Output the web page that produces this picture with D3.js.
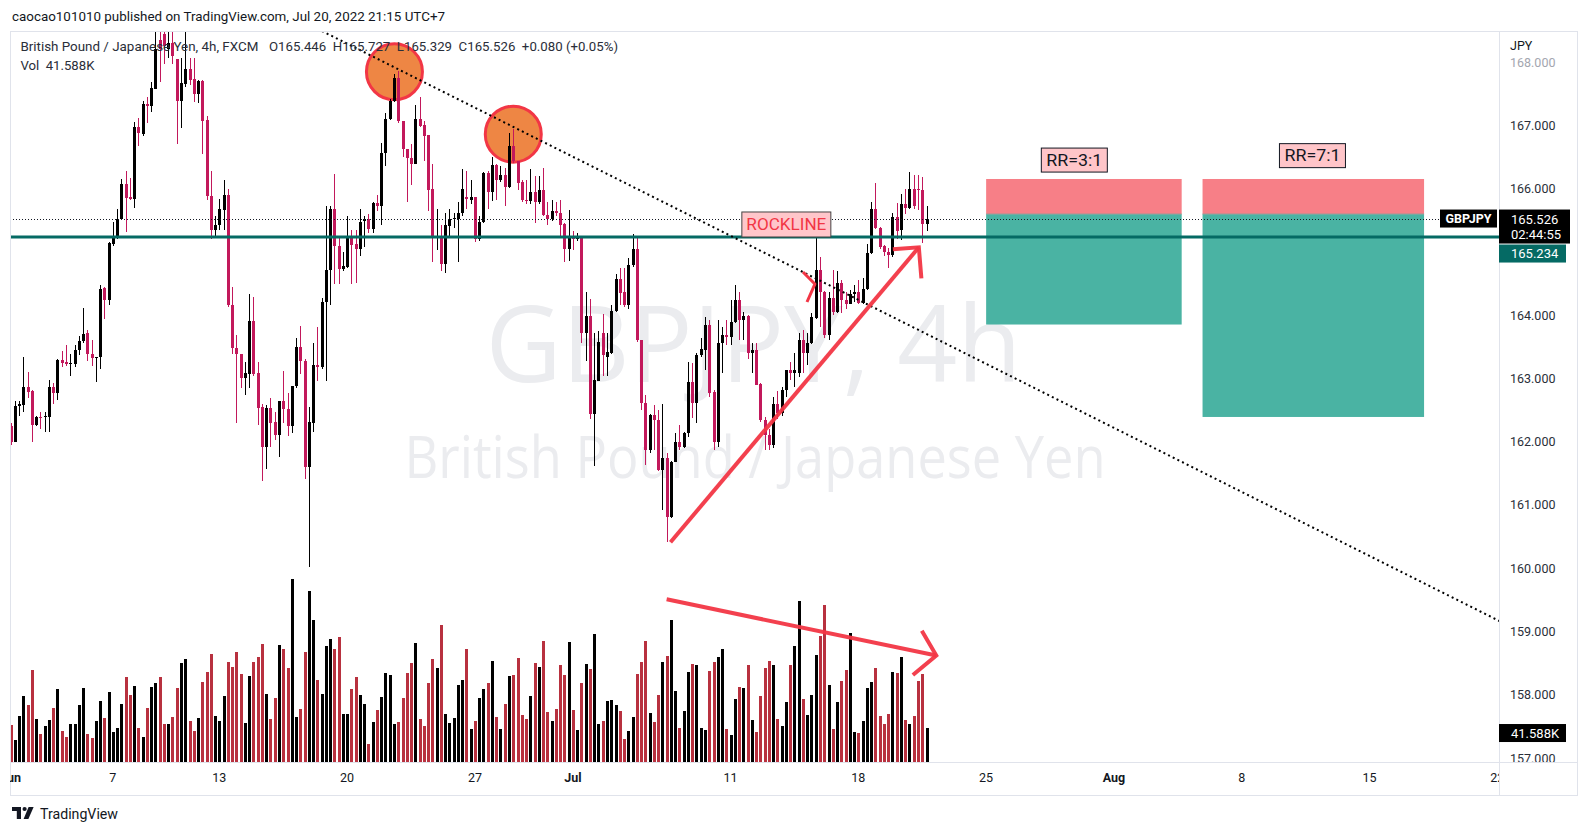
<!DOCTYPE html>
<html><head><meta charset="utf-8">
<script src="https://cdn.jsdelivr.net/npm/d3@7"></script>
<style>
body{margin:0;background:#fff;}
svg{display:block;font-family:Roboto,"Noto Sans",sans-serif;}
</style></head><body>
<svg id="c" width="1586" height="833"></svg>
<script>
// ---------- DATA ----------
const opens = [162.247,162.002,162.563,162.585,162.862,162.808,162.263,162.394,162.383,162.394,
162.862,162.775,163.292,163.26,163.221,163.227,163.445,163.586,163.717,163.379,
163.319,163.336,164.435,164.245,165.12,165.24,165.513,166.073,165.866,165.828,
166.971,166.862,167.336,167.309,167.581,168.343,168.45,168.207,168.299,168.043,
167.39,167.646,167.891,167.728,167.488,167.701,167.08,165.877,165.35,165.431,
165.665,165.894,164.152,163.472,163.39,162.998,163.075,163.907,163.08,162.547,
161.921,162.536,162.313,162.111,162.644,162.508,162.247,162.873,163.499,163.281,
161.594,162.302,163.21,163.172,164.206,164.713,165.676,165.088,164.724,164.762,
165.24,165.13,165.039,165.486,165.513,165.36,165.774,165.73,166.563,167.107,
167.379,167.744,167.064,166.628,166.481,166.394,167.102,167.009,166.846,165.992,
165.224,165.251,164.805,165.415,165.513,165.524,165.621,165.866,165.823,165.866,
165.203,165.469,166.247,165.948,166.367,166.128,166.209,166.03,166.672,166.438,
166.111,165.823,165.801,165.948,165.785,165.975,165.583,165.513,165.638,165.616,
165.442,165.05,165.251,165.197,165.24,163.717,163.989,162.438,162.955,163.717,
163.336,163.401,164.07,164.577,164.359,164.152,164.792,165.039,163.606,162.605,
161.868,162.42,162.342,161.551,161.736,160.814,161.683,161.999,161.92,162.131,
162.947,162.616,163.369,163.448,163.843,162.79,161.999,163.553,163.685,163.659,
163.896,164.238,163.922,163.99,163.4,163.45,162.91,162.342,162.105,161.95,
162.6,162.45,162.82,163.132,163.079,163.079,163.606,163.395,163.553,163.948,
164.712,164.37,163.685,164.265,164.05,164.5,164.24,164.18,164.34,164.37,
164.19,164.42,164.98,165.67,165.37,165.09,164.99,164.95,165.545,165.345,
165.756,165.69,166.0,165.99,165.98,165.446];
const highs = [162.30,162.639,162.639,163.336,163.102,162.81,162.40,162.465,162.465,162.971,
162.927,163.30,163.434,163.526,163.39,163.526,163.662,164.108,163.771,163.608,
163.34,164.468,164.45,165.148,165.469,165.676,166.149,166.275,166.166,167.053,
167.118,167.379,167.445,167.69,168.8,168.9,168.75,168.7,168.6,168.05,
168.071,168.5,168.071,168.071,167.717,167.717,167.145,166.275,165.567,165.839,
166.128,165.992,164.451,163.69,163.39,163.254,164.326,164.288,163.254,162.601,
162.574,162.693,162.465,162.65,163.118,162.764,162.88,163.635,163.825,163.31,
162.547,163.553,163.809,164.272,165.73,165.73,166.231,165.251,165.0,165.567,
165.35,165.35,165.676,165.567,165.594,165.785,165.894,166.726,167.2,167.418,
167.809,167.864,167.07,166.63,166.71,167.32,167.445,167.064,166.85,166.383,
165.676,165.431,165.621,165.676,165.621,165.785,166.302,166.275,166.139,165.87,
165.567,166.258,166.275,166.492,166.383,166.356,166.329,166.873,166.944,166.44,
166.139,166.139,166.302,166.193,166.193,166.329,165.785,165.812,165.785,165.812,
165.45,165.66,165.333,165.295,165.251,164.359,164.261,163.717,163.744,164.016,
163.717,164.152,164.642,164.751,164.751,164.9,165.281,165.213,163.61,162.737,
162.43,162.58,162.5,162.595,161.815,161.69,162.131,162.263,162.16,163.264,
163.237,163.395,163.632,163.975,163.922,162.82,163.922,163.817,163.922,164.238,
164.475,164.37,164.05,164.0,163.553,163.553,162.921,162.394,162.2,162.7,
162.8,162.87,163.14,163.264,163.395,163.711,163.764,163.711,164.027,165.213,
164.923,164.375,164.37,164.72,164.69,164.55,164.37,164.4,164.48,164.55,
164.58,165.13,165.79,166.09,165.4,165.1,165.06,165.61,165.77,165.92,
166.0,166.257,166.21,166.21,166.19,165.727];
const lows = [161.95,162.0,162.41,162.465,162.693,162.002,162.247,162.193,162.155,162.15,
162.601,162.655,163.183,163.2,163.036,163.172,163.363,163.553,163.281,163.2,
162.938,163.145,163.934,164.152,165.094,165.197,165.51,165.306,165.812,165.687,
166.672,166.83,167.037,167.216,167.58,167.69,167.962,168.071,167.962,166.71,
166.955,167.608,167.635,167.363,167.347,166.547,165.812,165.203,165.24,165.35,
165.35,164.125,163.39,162.291,162.846,162.737,162.846,163.036,162.258,161.376,
161.567,161.921,162.03,161.757,162.302,162.084,162.138,162.846,163.064,161.404,
160.016,162.155,162.955,163.145,162.955,164.152,164.495,164.495,164.70,164.751,
164.495,164.5,164.941,165.07,165.295,165.295,165.649,165.431,166.356,167.08,
167.363,167.037,166.492,165.785,166.057,166.383,166.98,166.438,165.649,164.832,
165.023,164.696,164.669,165.24,165.38,164.832,165.567,165.676,165.757,165.148,
165.175,165.458,165.676,165.801,165.812,166.111,165.73,166.002,166.411,165.975,
165.785,165.757,165.757,165.458,165.757,165.567,165.431,165.486,165.567,165.24,
164.832,164.859,165.023,165.175,163.553,163.281,162.356,161.621,162.955,163.036,
163.036,163.39,164.043,164.152,164.125,164.1,164.765,163.58,162.5,161.631,
161.815,161.868,161.54,160.919,160.419,160.788,161.68,161.868,161.894,162.078,
162.368,162.289,163.343,163.132,162.711,161.868,161.92,163.079,163.527,163.527,
163.88,163.606,163.6,163.3,163.079,162.89,162.315,161.868,161.87,161.9,
162.35,162.4,162.7,162.974,162.869,163.026,163.079,163.211,163.55,163.94,
163.817,163.632,163.606,164.0,164.03,164.03,164.1,164.17,164.21,164.17,
164.17,164.4,164.97,165.36,165.05,164.94,164.74,164.92,165.21,165.19,
165.6,165.68,165.68,165.66,165.144,165.329];
const closes = [162.002,162.563,162.601,162.862,162.791,162.263,162.394,162.372,162.41,162.862,
162.775,163.292,163.249,163.221,163.249,163.445,163.586,163.706,163.379,163.319,
163.336,164.413,164.245,165.132,165.24,165.524,166.073,165.856,165.828,166.971,
166.873,167.336,167.298,167.592,168.207,168.207,168.25,168.299,168.098,167.39,
167.662,167.891,167.717,167.488,167.701,167.075,165.877,165.35,165.42,165.676,
165.894,164.152,163.472,163.379,162.998,163.08,163.907,163.064,162.536,161.921,
162.536,162.302,162.111,162.644,162.508,162.247,162.873,163.499,163.27,161.594,
162.313,163.21,163.172,164.206,164.713,165.676,165.088,164.724,164.78,165.24,
165.115,165.039,165.469,165.513,165.36,165.774,165.73,166.563,167.107,167.379,
167.744,167.064,166.628,166.481,166.394,167.102,166.993,166.83,165.975,165.24,
165.251,164.805,165.431,165.524,165.54,165.621,165.992,165.828,165.866,165.203,
165.469,166.247,165.948,166.367,166.128,166.209,166.03,166.672,166.438,166.084,
165.812,165.801,165.948,165.785,165.975,165.583,165.513,165.638,165.616,165.431,
165.05,165.24,165.197,165.251,163.717,163.989,162.438,162.982,163.581,163.363,
163.417,164.07,164.577,164.343,164.152,164.794,165.039,163.606,162.605,161.868,
162.421,162.34,161.551,161.736,160.814,161.683,161.999,161.92,162.131,162.947,
162.616,163.369,163.459,163.843,162.763,161.999,163.564,163.685,163.659,163.896,
164.238,163.922,163.99,163.4,163.45,162.9,162.342,162.105,161.95,162.6,
162.45,162.82,163.13,163.079,163.132,163.606,163.395,163.564,163.975,164.712,
164.37,163.685,164.265,164.05,164.5,164.24,164.18,164.34,164.37,164.19,
164.42,164.98,165.67,165.37,165.08,164.99,164.95,165.545,165.33,165.756,
165.69,166.0,165.72,165.97,165.446,165.526];
const volumesK = [45.3,26.9,56.3,80.8,69.8,112.6,52.6,34.3,44.1,51.4,
66.1,89.4,37.9,30.6,46.5,46.5,69.8,90.6,34.3,29.4,
50.2,74.7,53.9,85.7,36.7,41.6,71.0,104.0,82.0,93.0,
41.6,30.6,66.1,91.8,96.7,104.0,46.5,46.5,55.1,90.6,
121.2,126.1,50.2,37.9,53.9,97.9,110.2,132.2,56.3,50.2,
80.8,122.4,116.3,134.6,107.7,47.7,105.3,122.4,128.5,144.4,
83.2,52.6,78.3,143.2,138.3,115.1,224.0,55.1,64.9,134.6,
209.3,173.8,100.4,83.2,142.0,150.6,138.3,153.0,58.8,58.8,
89.4,104.0,82.0,71.0,22.0,49.0,63.6,79.6,108.9,106.5,
46.5,49.0,78.3,108.9,121.2,145.7,52.6,44.1,96.7,126.1,
115.1,167.7,58.8,47.7,53.9,94.2,100.4,138.3,40.4,50.2,
78.3,89.4,96.7,123.6,55.1,40.4,71.0,105.3,106.5,127.3,
57.5,52.6,80.8,121.2,116.3,148.1,61.2,50.2,64.9,118.7,
106.5,146.9,63.6,39.2,96.7,120.0,113.8,156.7,46.5,50.2,
74.7,75.9,69.8,62.4,28.2,37.9,55.1,107.7,122.4,148.1,
60.0,49.0,82.0,122.4,129.7,173.8,86.9,41.6,62.4,110.2,
120.0,118.7,41.6,39.2,111.4,122.4,128.5,138.3,40.4,33.0,
77.1,91.8,90.6,118.7,51.4,36.7,80.8,115.1,123.6,118.7,
52.6,44.1,73.4,118.7,142.0,197.1,77.1,57.5,82.0,131.0,
154.2,192.2,94.2,40.4,73.4,99.1,112.6,157.9,36.7,35.5,
50.2,90.6,97.9,115.1,56.3,46.5,58.8,110.2,108.9,128.5,
51.4,46.5,56.3,99.1,107.7,41.588];

const timeTickIdx    = [0, 24, 49, 79, 109, 132, 169, 199, 229, 259, 289, 319, 349];
const timeTickLabels = ["Jun","7","13","20","27","Jul","11","18","25","Aug","8","15","22"];
const priceTicks = [157,158,159,160,161,162,163,164,166,167,168];

const lastPrice = 165.526;
const rockline = 165.234;
const lastVolume = 41.588;
// trend line (bar index, price)
const trendPts = [[60,168.931],[352,159.08]];
// circles (bar index, price)
const circlePts = [[90.1,167.845],[118.0,166.859]];
// RR positions
const rrFrom = [229.0, 279.8], rrTo = [274.9, 331.8];
const rrStop = [166.151, 166.151], rrEntry = [165.596, 165.596], rrTarget = [163.851, 162.39];
const rrLabels = ["RR=3:1","RR=7:1"];
const rrLabelPts = [[249.7,166.45],[305.6,166.52]];
// arrows (bar index, price)
const upArrow = [[154.9,160.409],[213.2,165.071]];
const upArrowHead = [[207.1,165.04],[213.2,165.071],[213.8,164.581]];
const chevron = [[186.0,164.681],[188.8,164.491],[186.95,164.207]];
const volArrow = [[154.0,159.508],[217.3,158.62]];
const volArrowHead = [[213.9,159.012],[217.3,158.62],[211.8,158.311]];
const rocklinePt = [182.1, 165.432];

// ---------- SCALES ----------
const pane = {l:10, t:31, r:1499, b:762};
const x = d3.scaleLinear().domain([0, opens.length-1]).range([10.6, 926.5]);
const y = d3.scaleLinear().domain([157,168]).range([758,62]);
const yVol = d3.scaleLinear().domain([0,250]).range([762,557.75]);

const bars = opens.map((o,i)=>({i,o,h:highs[i],l:lows[i],c:closes[i],v:volumesK[i],up:closes[i]>=o}));
const UP="#000000", DN="#c2185b", VUP="#000000", VDN="#b8313f", RED="#f23645", TEAL="#056a64";

const svg = d3.select("#c");
const defs = svg.append("defs");
defs.append("clipPath").attr("id","paneClip").append("rect")
  .attr("x",pane.l).attr("y",pane.t).attr("width",pane.r-pane.l).attr("height",pane.b-pane.t);
defs.append("clipPath").attr("id","timeClip").append("rect")
  .attr("x",pane.l).attr("y",pane.b).attr("width",pane.r-pane.l).attr("height",40);
defs.append("clipPath").attr("id","priceClip").append("rect").attr("x",1500).attr("y",31).attr("width",80).attr("height",731);

// header
svg.append("text").attr("x",12).attr("y",21).attr("font-size",13.5).attr("fill","#131722")
  .attr("textLength",433).attr("lengthAdjust","spacingAndGlyphs")
  .text("caocao101010 published on TradingView.com, Jul 20, 2022 21:15 UTC+7");

const g = svg.append("g").attr("clip-path","url(#paneClip)");

// watermark
g.append("text").attr("x",753.5).attr("y",382).attr("text-anchor","middle")
  .attr("font-family","'Open Sans',sans-serif").attr("font-size",106).attr("fill","#ebecef")
  .attr("textLength",536).attr("lengthAdjust","spacingAndGlyphs").text("GBPJPY, 4h");
g.append("text").attr("x",755).attr("y",478).attr("text-anchor","middle")
  .attr("font-family","'Open Sans',sans-serif").attr("font-size",59).attr("fill","#ebecef")
  .attr("textLength",701).attr("lengthAdjust","spacingAndGlyphs").text("British Pound / Japanese Yen");

// legend
const leg = svg.append("g").attr("font-size",13).attr("fill","#2a2e39");
leg.append("text").attr("x",20.4).attr("y",51).attr("textLength",238).attr("lengthAdjust","spacingAndGlyphs")
  .text("British Pound / Japanese Yen, 4h, FXCM");
leg.append("text").attr("x",269).attr("y",51).attr("textLength",349).attr("lengthAdjust","spacingAndGlyphs")
  .attr("xml:space","preserve")
  .text(`O${opens[opens.length-1].toFixed(3)}  H${highs[highs.length-1].toFixed(3)}  L${lows[lows.length-1].toFixed(3)}  C${closes[closes.length-1].toFixed(3)}  +0.080 (+0.05%)`);
leg.append("text").attr("x",20.4).attr("y",70).attr("textLength",74).attr("lengthAdjust","spacingAndGlyphs")
  .attr("xml:space","preserve").text("Vol  " + lastVolume.toFixed(3) + "K");

// circles (under candles)
g.selectAll("circle.mark").data(circlePts).join("circle").attr("class","mark")
  .attr("cx",d=>x(d[0])).attr("cy",d=>y(d[1])).attr("r",28)
  .attr("fill","#ee8644").attr("stroke",RED).attr("stroke-width",3);

// RR boxes
rrFrom.forEach((f,k)=>{
  const x0=x(f), x1=x(rrTo[k]);
  g.append("rect").attr("x",x0).attr("width",x1-x0).attr("y",y(rrStop[k])).attr("height",y(rrEntry[k])-y(rrStop[k]))
    .attr("fill","#f77f87");
  g.append("rect").attr("x",x0).attr("width",x1-x0).attr("y",y(rrEntry[k])).attr("height",y(rrTarget[k])-y(rrEntry[k]))
    .attr("fill","#4ab3a3");
  g.append("line").attr("x1",x0).attr("x2",x1).attr("y1",y(rrEntry[k])).attr("y2",y(rrEntry[k]))
    .attr("stroke","#8a9e9a").attr("stroke-width",1);
});

// volume bars
g.append("g").selectAll("rect").data(bars).join("rect")
  .attr("x",d=>Math.round(x(d.i))-1).attr("width",3)
  .attr("y",d=>yVol(d.v)).attr("height",d=>yVol(0)-yVol(d.v))
  .attr("fill",d=>d.up?VUP:VDN).attr("shape-rendering","crispEdges");

// candles
const cg = g.append("g").attr("shape-rendering","crispEdges");
cg.selectAll("line").data(bars).join("line")
  .attr("x1",d=>Math.round(x(d.i))+0.5).attr("x2",d=>Math.round(x(d.i))+0.5)
  .attr("y1",d=>y(d.h)).attr("y2",d=>y(d.l))
  .attr("stroke",d=>d.up?UP:DN).attr("stroke-width",1);
cg.selectAll("rect").data(bars).join("rect")
  .attr("x",d=>Math.round(x(d.i))-1).attr("width",3)
  .attr("y",d=>y(Math.max(d.o,d.c))).attr("height",d=>Math.max(1,Math.abs(y(d.o)-y(d.c))))
  .attr("fill",d=>d.up?UP:DN);

// rockline (teal)
g.append("line").attr("x1",pane.l).attr("x2",pane.r).attr("y1",y(rockline)).attr("y2",y(rockline))
  .attr("stroke",TEAL).attr("stroke-width",3);
// last price dotted
g.append("line").attr("x1",pane.l).attr("x2",1440).attr("y1",Math.round(y(lastPrice))+0.5).attr("y2",Math.round(y(lastPrice))+0.5)
  .attr("stroke","#131722").attr("stroke-width",1).attr("stroke-dasharray","1,2");
// trendline dotted
g.append("line").attr("x1",x(trendPts[0][0])).attr("y1",y(trendPts[0][1]))
  .attr("x2",x(trendPts[1][0])).attr("y2",y(trendPts[1][1]))
  .attr("stroke","#000").attr("stroke-width",2).attr("stroke-dasharray","2,3.2");

// arrows
const ln = d3.line().x(d=>x(d[0])).y(d=>y(d[1]));
[upArrow, upArrowHead, volArrow, volArrowHead].forEach(p=>{
  g.append("path").attr("d",ln(p)).attr("fill","none").attr("stroke",RED).attr("stroke-width",4)
    .attr("stroke-linecap","butt").attr("stroke-linejoin","miter").attr("stroke-opacity",0.95);
});
g.append("path").attr("d",ln(chevron)).attr("fill","none").attr("stroke",RED).attr("stroke-width",3)
  .attr("stroke-linejoin","round");

// ROCKLINE label
{
  const cx=x(rocklinePt[0]), cy=y(rocklinePt[1]);
  g.append("rect").attr("x",cx-44.5).attr("y",cy-12.5).attr("width",89).attr("height",25)
    .attr("fill","#ffc6ca").attr("stroke","#444").attr("stroke-width",1);
  g.append("text").attr("x",cx).attr("y",cy+6).attr("text-anchor","middle").attr("font-size",16)
    .attr("fill",RED).attr("textLength",80).attr("lengthAdjust","spacingAndGlyphs").text("ROCKLINE");
}
// RR labels
rrLabels.forEach((t,k)=>{
  const cx=x(rrLabelPts[k][0]), cy=y(rrLabelPts[k][1]);
  g.append("rect").attr("x",cx-33).attr("y",cy-12).attr("width",66).attr("height",24)
    .attr("fill","#ffc5c9").attr("stroke","#131722").attr("stroke-width",1);
  g.append("text").attr("x",cx).attr("y",cy+5.5).attr("text-anchor","middle").attr("font-size",16)
    .attr("fill","#131722").attr("textLength",56).attr("lengthAdjust","spacingAndGlyphs").text(t);
});

// GBPJPY label at end of dotted line
{
  const cy=y(lastPrice);
  svg.append("rect").attr("x",1440).attr("y",cy-9).attr("width",57).attr("height",18).attr("fill","#000");
  svg.append("text").attr("x",1468.5).attr("y",cy+4.5).attr("text-anchor","middle").attr("font-size",12.5)
    .attr("font-weight","bold").attr("fill","#fff").text("GBPJPY");
}

// frame
const fr = svg.append("g").attr("fill","none").attr("stroke","#e0e3eb").attr("stroke-width",1).attr("shape-rendering","crispEdges");
fr.append("rect").attr("x",10.5).attr("y",31.5).attr("width",1567).attr("height",764);
fr.append("line").attr("x1",1499.5).attr("x2",1499.5).attr("y1",31.5).attr("y2",795.5);
fr.append("line").attr("x1",10.5).attr("x2",1577.5).attr("y1",762.5).attr("y2",762.5);

// price axis
const pa = svg.append("g").attr("font-size",12.5);
pa.append("text").attr("x",1510).attr("y",50).attr("fill","#131722").text("JPY");
pa.selectAll("text.tick").data(priceTicks).join("text").attr("class","tick")
  .attr("x",1510).attr("y",d=>y(d)+4.5).attr("fill",d=>d===168?"#a3a6af":"#2a2e39")
  .attr("clip-path","url(#priceClip)")
  .text(d=>d3.format(".3f")(d));

// last price box
{
  const top = y(lastPrice)-9;
  pa.append("rect").attr("x",1499).attr("y",top).attr("width",71).attr("height",34).attr("fill","#000");
  pa.append("text").attr("x",1511).attr("y",top+14).attr("fill","#fff").attr("font-size",13).text(d3.format(".3f")(lastPrice));
  pa.append("text").attr("x",1511).attr("y",top+29).attr("fill","#fff").attr("font-size",13).text("02:44:55");
  const ty = top+35;
  pa.append("rect").attr("x",1499).attr("y",ty).attr("width",67).attr("height",18).attr("fill",TEAL);
  pa.append("text").attr("x",1511).attr("y",ty+13.5).attr("fill","#fff").attr("font-size",13).text(d3.format(".3f")(rockline));
  const vy = yVol(lastVolume)-4;
  pa.append("rect").attr("x",1499).attr("y",vy).attr("width",67).attr("height",18).attr("fill","#000");
  pa.append("text").attr("x",1511).attr("y",vy+13.5).attr("fill","#fff").attr("font-size",13).text(lastVolume.toFixed(3)+"K");
}

// time axis
svg.append("g").attr("clip-path","url(#timeClip)").selectAll("text").data(timeTickIdx).join("text")
  .attr("x",d=>x(d)).attr("y",782).attr("text-anchor","middle").attr("font-size",12.5)
  .attr("fill","#131722").attr("font-weight",(d,i)=>/[A-Za-z]/.test(timeTickLabels[i])?"bold":"normal")
  .text((d,i)=>timeTickLabels[i]);

// TradingView logo
const lg = svg.append("g").attr("fill","#131722");
lg.append("path").attr("d","M12 807h9v12h-4.2v-8H12z");
lg.append("circle").attr("cx",24.6).attr("cy",809).attr("r",2.1);
lg.append("path").attr("d","M28.6 807h5l-5.2 12h-4.8z");
lg.append("text").attr("x",40).attr("y",818.5).attr("font-size",14.5).attr("textLength",78)
  .attr("lengthAdjust","spacingAndGlyphs").text("TradingView");
</script>
</body></html>
